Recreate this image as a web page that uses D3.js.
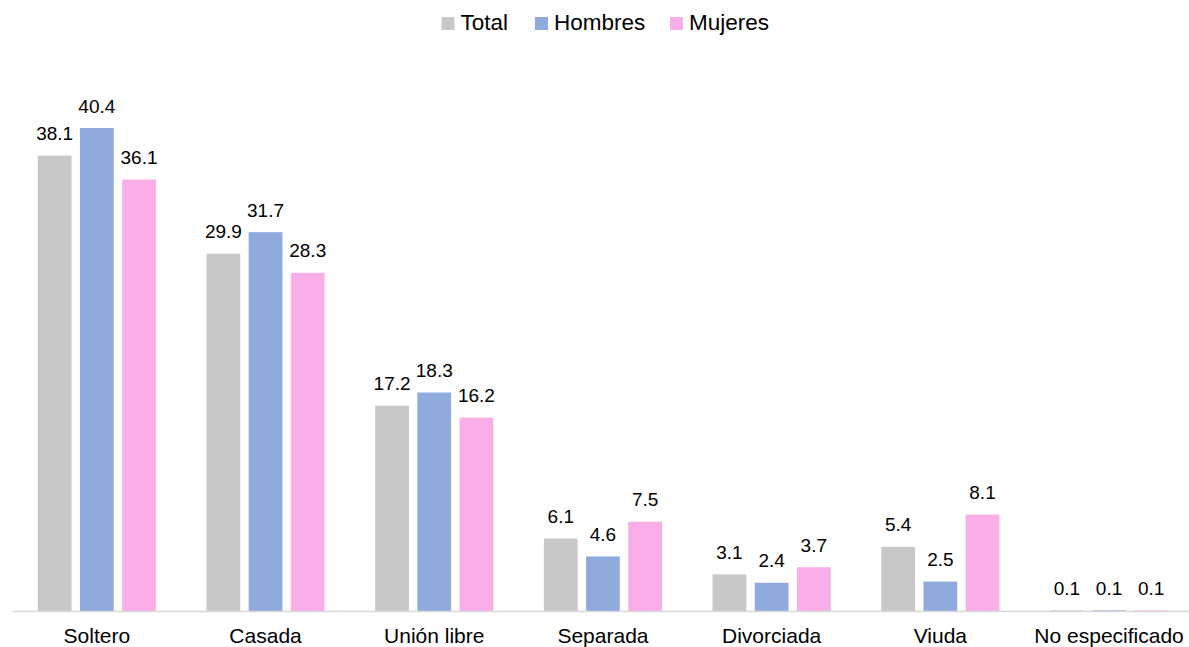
<!DOCTYPE html>
<html>
<head>
<meta charset="utf-8">
<script src="https://cdn.jsdelivr.net/npm/d3@7"></script>
<style>
  html, body { margin: 0; padding: 0; background: #fff; }
  svg { display: block; font-family: "Liberation Sans", Arial, sans-serif; }
</style>
</head>
<body>
<svg id="chart" width="1189" height="647"></svg>
<script>
var categories = ["Soltero", "Casada", "Unión libre", "Separada", "Divorciada", "Viuda", "No especificado"];
var seriesNames = ["Total", "Hombres", "Mujeres"];
var totalValues = [38.1, 29.9, 17.2, 6.1, 3.1, 5.4, 0.1];
var hombresValues = [40.4, 31.7, 18.3, 4.6, 2.4, 2.5, 0.1];
var mujeresValues = [36.1, 28.3, 16.2, 7.5, 3.7, 8.1, 0.1];

var colors = d3.scaleOrdinal()
    .domain(seriesNames)
    .range(["#c8c8c8", "#8faadc", "#f9aee8"]);

var svg = d3.select("#chart");
var width = 1189, height = 647;
var baseY = 611.5;

var seriesValues = [totalValues, hombresValues, mujeresValues];
var data = categories.map(function (c, i) {
    return {
        key: c,
        values: seriesNames.map(function (s, j) { return { name: s, value: seriesValues[j][i] }; })
    };
});

var x0 = d3.scaleBand()
    .domain(categories)
    .range([12.5, 1193.4])
    .paddingInner(0.3)
    .paddingOuter(0.15);

var x1 = d3.scaleBand()
    .domain(seriesNames)
    .range([0, x0.bandwidth()])
    .paddingInner(0.2)
    .paddingOuter(0);

var y = d3.scaleLinear()
    .domain([0, 45])
    .range([baseY, 73]);

// bars
var groups = svg.append("g")
    .selectAll("g.group")
    .data(data)
    .enter()
    .append("g")
    .attr("class", "group")
    .attr("transform", function (d) { return "translate(" + x0(d.key) + ",0)"; });

groups.selectAll("rect")
    .data(function (d) { return d.values; })
    .enter()
    .append("rect")
    .attr("x", function (d) { return x1(d.name); })
    .attr("y", function (d) { return y(d.value); })
    .attr("width", x1.bandwidth())
    .attr("height", function (d) { return y(0) - y(d.value); })
    .attr("fill", function (d) { return colors(d.name); });

// value labels
groups.selectAll("text")
    .data(function (d) { return d.values; })
    .enter()
    .append("text")
    .attr("x", function (d) { return x1(d.name) + x1.bandwidth() / 2; })
    .attr("y", function (d) { return y(d.value) - 15.5; })
    .attr("text-anchor", "middle")
    .attr("font-size", "19px")
    .attr("fill", "#000")
    .text(function (d) { return d3.format(".1f")(d.value); });

// x axis
var xAxis = svg.append("g")
    .attr("transform", "translate(0," + baseY + ")")
    .call(d3.axisBottom(x0).tickSize(0).tickPadding(17));
xAxis.select(".domain").attr("stroke", "#d9d9d9").attr("stroke-width", 1.5)
    .attr("d", "M12.5,0H1200");
xAxis.selectAll("text")
    .attr("font-size", "21px")
    .attr("font-family", "'Liberation Sans', Arial, sans-serif")
    .attr("fill", "#000");

// legend
var legendX = [441.5, 535, 670];
var legend = svg.append("g")
    .selectAll("g.legend")
    .data(seriesNames)
    .enter()
    .append("g")
    .attr("class", "legend")
    .attr("transform", function (d, i) { return "translate(" + legendX[i] + ",17)"; });

legend.append("rect")
    .attr("width", 13)
    .attr("height", 13)
    .attr("fill", function (d) { return colors(d); });

legend.append("text")
    .attr("x", 19)
    .attr("y", 13)
    .attr("font-size", "22.5px")
    .attr("fill", "#000")
    .text(function (d) { return d; });
</script>
</body>
</html>
